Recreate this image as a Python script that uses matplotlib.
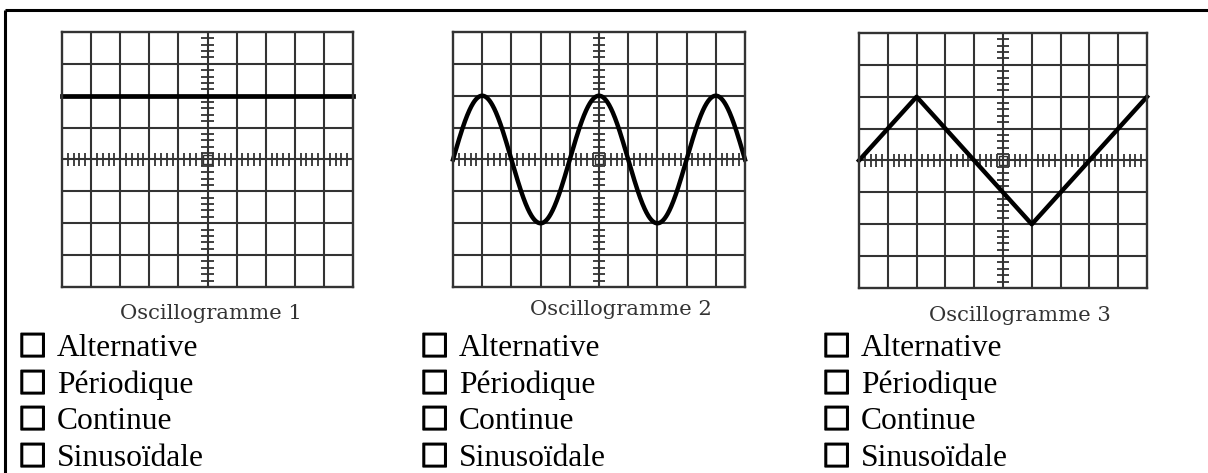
import numpy as np
import matplotlib.pyplot as plt
import matplotlib.patheffects as pe

W, H = 1208, 473

# oscilloscope screens: 10 x 8 divisions
x_sig = np.linspace(-5, 5, 801)
titles = ["Oscillogramme 1", "Oscillogramme 2", "Oscillogramme 3"]
# continuous level (div)
dc_level = 2
# sine: amplitude 2 div, period 4 div
sine_amp = 2
sine_period = 4
# triangle corners (div)
tri_x = [-5, -3, 1, 5]
tri_y = [0, 2, -2, 2]
choices = ["Alternative", "Périodique", "Continue", "Sinusoïdale"]

# screen boxes in pixels: left, top, width, height
screens = [(62, 32, 291, 255), (453, 32, 292, 255), (859, 33, 288, 255)]
title_pos = [(211, 313), (621, 309), (1020, 315)]
box_x = [21, 423, 825]
baselines = [356, 393, 429, 466]

fig = plt.figure(figsize=(W / 100, H / 100), dpi=100)
bg = fig.add_axes([0, 0, 1, 1])
bg.set_xlim(0, W)
bg.set_ylim(H, 0)
bg.axis("off")

# page frame (only top and left edges fall inside)
bg.plot([5, W + 5], [10, 10], color="black", lw=2.2, solid_capstyle="butt")
bg.plot([5, 5], [10, H + 5], color="black", lw=2.2, solid_capstyle="butt")

grid_col = "#333333"


def draw_screen(ax):
    ax.set_xlim(-5, 5)
    ax.set_ylim(-4, 4)
    ax.set_xticks([])
    ax.set_yticks([])
    for s in ax.spines.values():
        s.set_color(grid_col)
        s.set_linewidth(1.7)
    for gx in range(-4, 5):
        ax.axvline(gx, color=grid_col, lw=1.5)
    for gy in range(-3, 4):
        ax.axhline(gy, color=grid_col, lw=1.5)
    # graduations on the centre axes
    tx = np.arange(-5, 5.001, 0.2)
    ty = np.arange(-4, 4.001, 0.2)
    ax.vlines(tx, -0.19, 0.19, color=grid_col, lw=1.3)
    ax.hlines(ty, -0.21, 0.21, color=grid_col, lw=1.3)
    ax.add_patch(plt.Rectangle((-0.14, -0.15), 0.28, 0.3, fill=False,
                               ec=grid_col, lw=1.0))


axes = []
for (l, t, w, h) in screens:
    ax = fig.add_axes([l / W, (H - t - h) / H, w / W, h / H])
    draw_screen(ax)
    axes.append(ax)

axes[0].plot([-5, 5], [dc_level, dc_level], color="black", lw=3.4)
axes[1].plot(x_sig, sine_amp * np.sin(2 * np.pi * (x_sig + 5) / sine_period),
             color="black", lw=3.2)
axes[2].plot(tri_x, tri_y, color="black", lw=3.2)
for ax in axes:
    ax.lines[-1].set_clip_on(False)

for (cx, cy), t in zip(title_pos, titles):
    bg.text(cx, cy, t, ha="center", va="center", family="DejaVu Serif",
            fontsize=15.2, color="#333333")

# bolder outline for the tick boxes
box_fx = [pe.withStroke(linewidth=0.9, foreground="black")]
for bx in box_x:
    for by, c in zip(baselines, choices):
        bg.text(bx - 3, by + 1, "☐", ha="left", va="baseline",
                family=["Liberation Serif", "DejaVu Sans"], fontsize=23.5,
                path_effects=box_fx)
        bg.text(bx + 36, by, c, ha="left", va="baseline",
                family="Liberation Serif", fontsize=22.7)

fig.savefig("out.png", dpi=100)
